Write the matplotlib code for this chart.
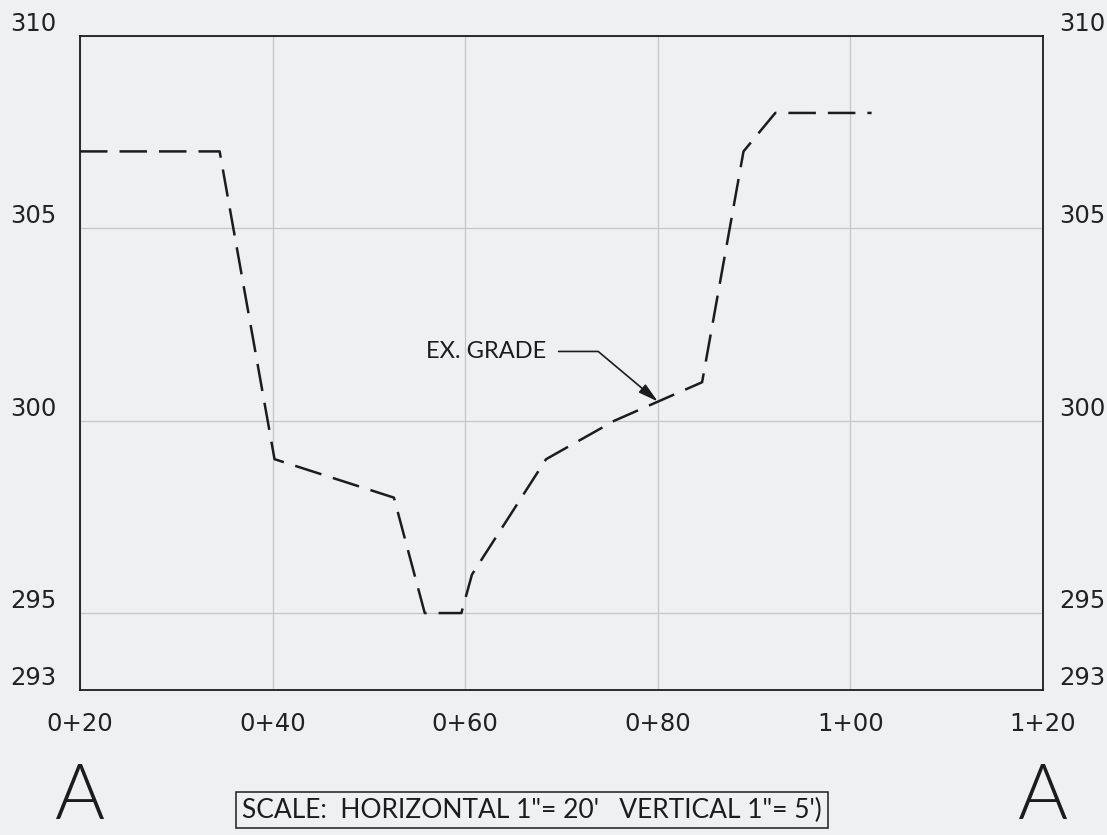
import matplotlib
matplotlib.use('Agg')
import matplotlib.pyplot as plt
import matplotlib.transforms as mtransforms

# existing grade profile (station in ft, elevation in ft)
station = [20, 34.5, 40.2, 52.6, 55.8, 59.6, 60.7, 68.4, 75.5, 84.6, 88.9, 92.2, 102.2]
elev = [307, 307, 299, 298, 295, 295, 296, 299, 300, 301, 307, 308, 308]

x_ticks = [20, 40, 60, 80, 100, 120]
x_labels = ['0+20', '0+40', '0+60', '0+80', '1+00', '1+20']
y_ticks = [293, 295, 300, 305, 310]
y_labels = ['293', '295', '300', '305', '310']

paper = '#eef0f2'
ink = '#1c1c1c'

fig = plt.figure(figsize=(11.07, 8.35), dpi=100, facecolor=paper)
ax = fig.add_axes([80 / 1107, 1 - 690 / 835, (1043 - 80) / 1107, (690 - 36) / 835])
ax.set_facecolor(paper)

ax.plot(station, elev, color=ink, lw=1.8, dashes=(11, 4.8), solid_joinstyle='miter')

ax.set_xlim(20, 120)
ax.set_ylim(293, 310)
ax.set_xticks(x_ticks)
ax.set_xticklabels(x_labels)
ax.set_yticks(y_ticks)
ax.set_yticklabels(y_labels)
ax.grid(True, color='#c4c6c8', lw=0.9)
ax.set_axisbelow(True)
for s in ax.spines.values():
    s.set_color(ink)
    s.set_linewidth(1.3)

ax.tick_params(axis='both', length=0, labelsize=17.5, labelcolor='#222222')
ax.tick_params(axis='x', pad=16)
ax.tick_params(axis='y', pad=12, labelright=True)

# CAD style: elevation labels sit above their grid lines
up = mtransforms.ScaledTranslation(0, 10.5 / 72, fig.dpi_scale_trans)
left = mtransforms.ScaledTranslation(-5 / 72, 10.5 / 72, fig.dpi_scale_trans)
for t in ax.yaxis.get_major_ticks():
    t.label1.set_transform(t.label1.get_transform() + left)
    t.label2.set_transform(t.label2.get_transform() + up)

ax.annotate('EX. GRADE', xy=(80, 300.5), xytext=(68.4, 301.8),
            ha='right', va='center', fontsize=17, family='Lato', color=ink,
            arrowprops=dict(arrowstyle='-|>,head_length=0.6,head_width=0.16',
                            mutation_scale=20, connectionstyle='angle,angleA=0,angleB=140,rad=0',
                            relpos=(1, 0.5), shrinkA=7, shrinkB=0, color=ink, lw=1.2))

# section markers under the end stations
trans = mtransforms.blended_transform_factory(ax.transData, fig.transFigure)
for xs in (x_ticks[0], x_ticks[-1]):
    ax.text(xs, 1 - 819 / 835, 'A', transform=trans, ha='center', va='baseline',
            fontsize=55, family='Lato', fontweight=300, color=ink)

fig.text(532 / 1107, 1 - 810 / 835, 'SCALE:  HORIZONTAL 1"= 20\'   VERTICAL 1"= 5\')',
         ha='center', va='center', fontsize=19, family='Lato', color=ink,
         bbox=dict(boxstyle='square,pad=0.22', facecolor='none', edgecolor=ink, lw=1.1))

fig.savefig('out.png', dpi=100, facecolor=paper)
